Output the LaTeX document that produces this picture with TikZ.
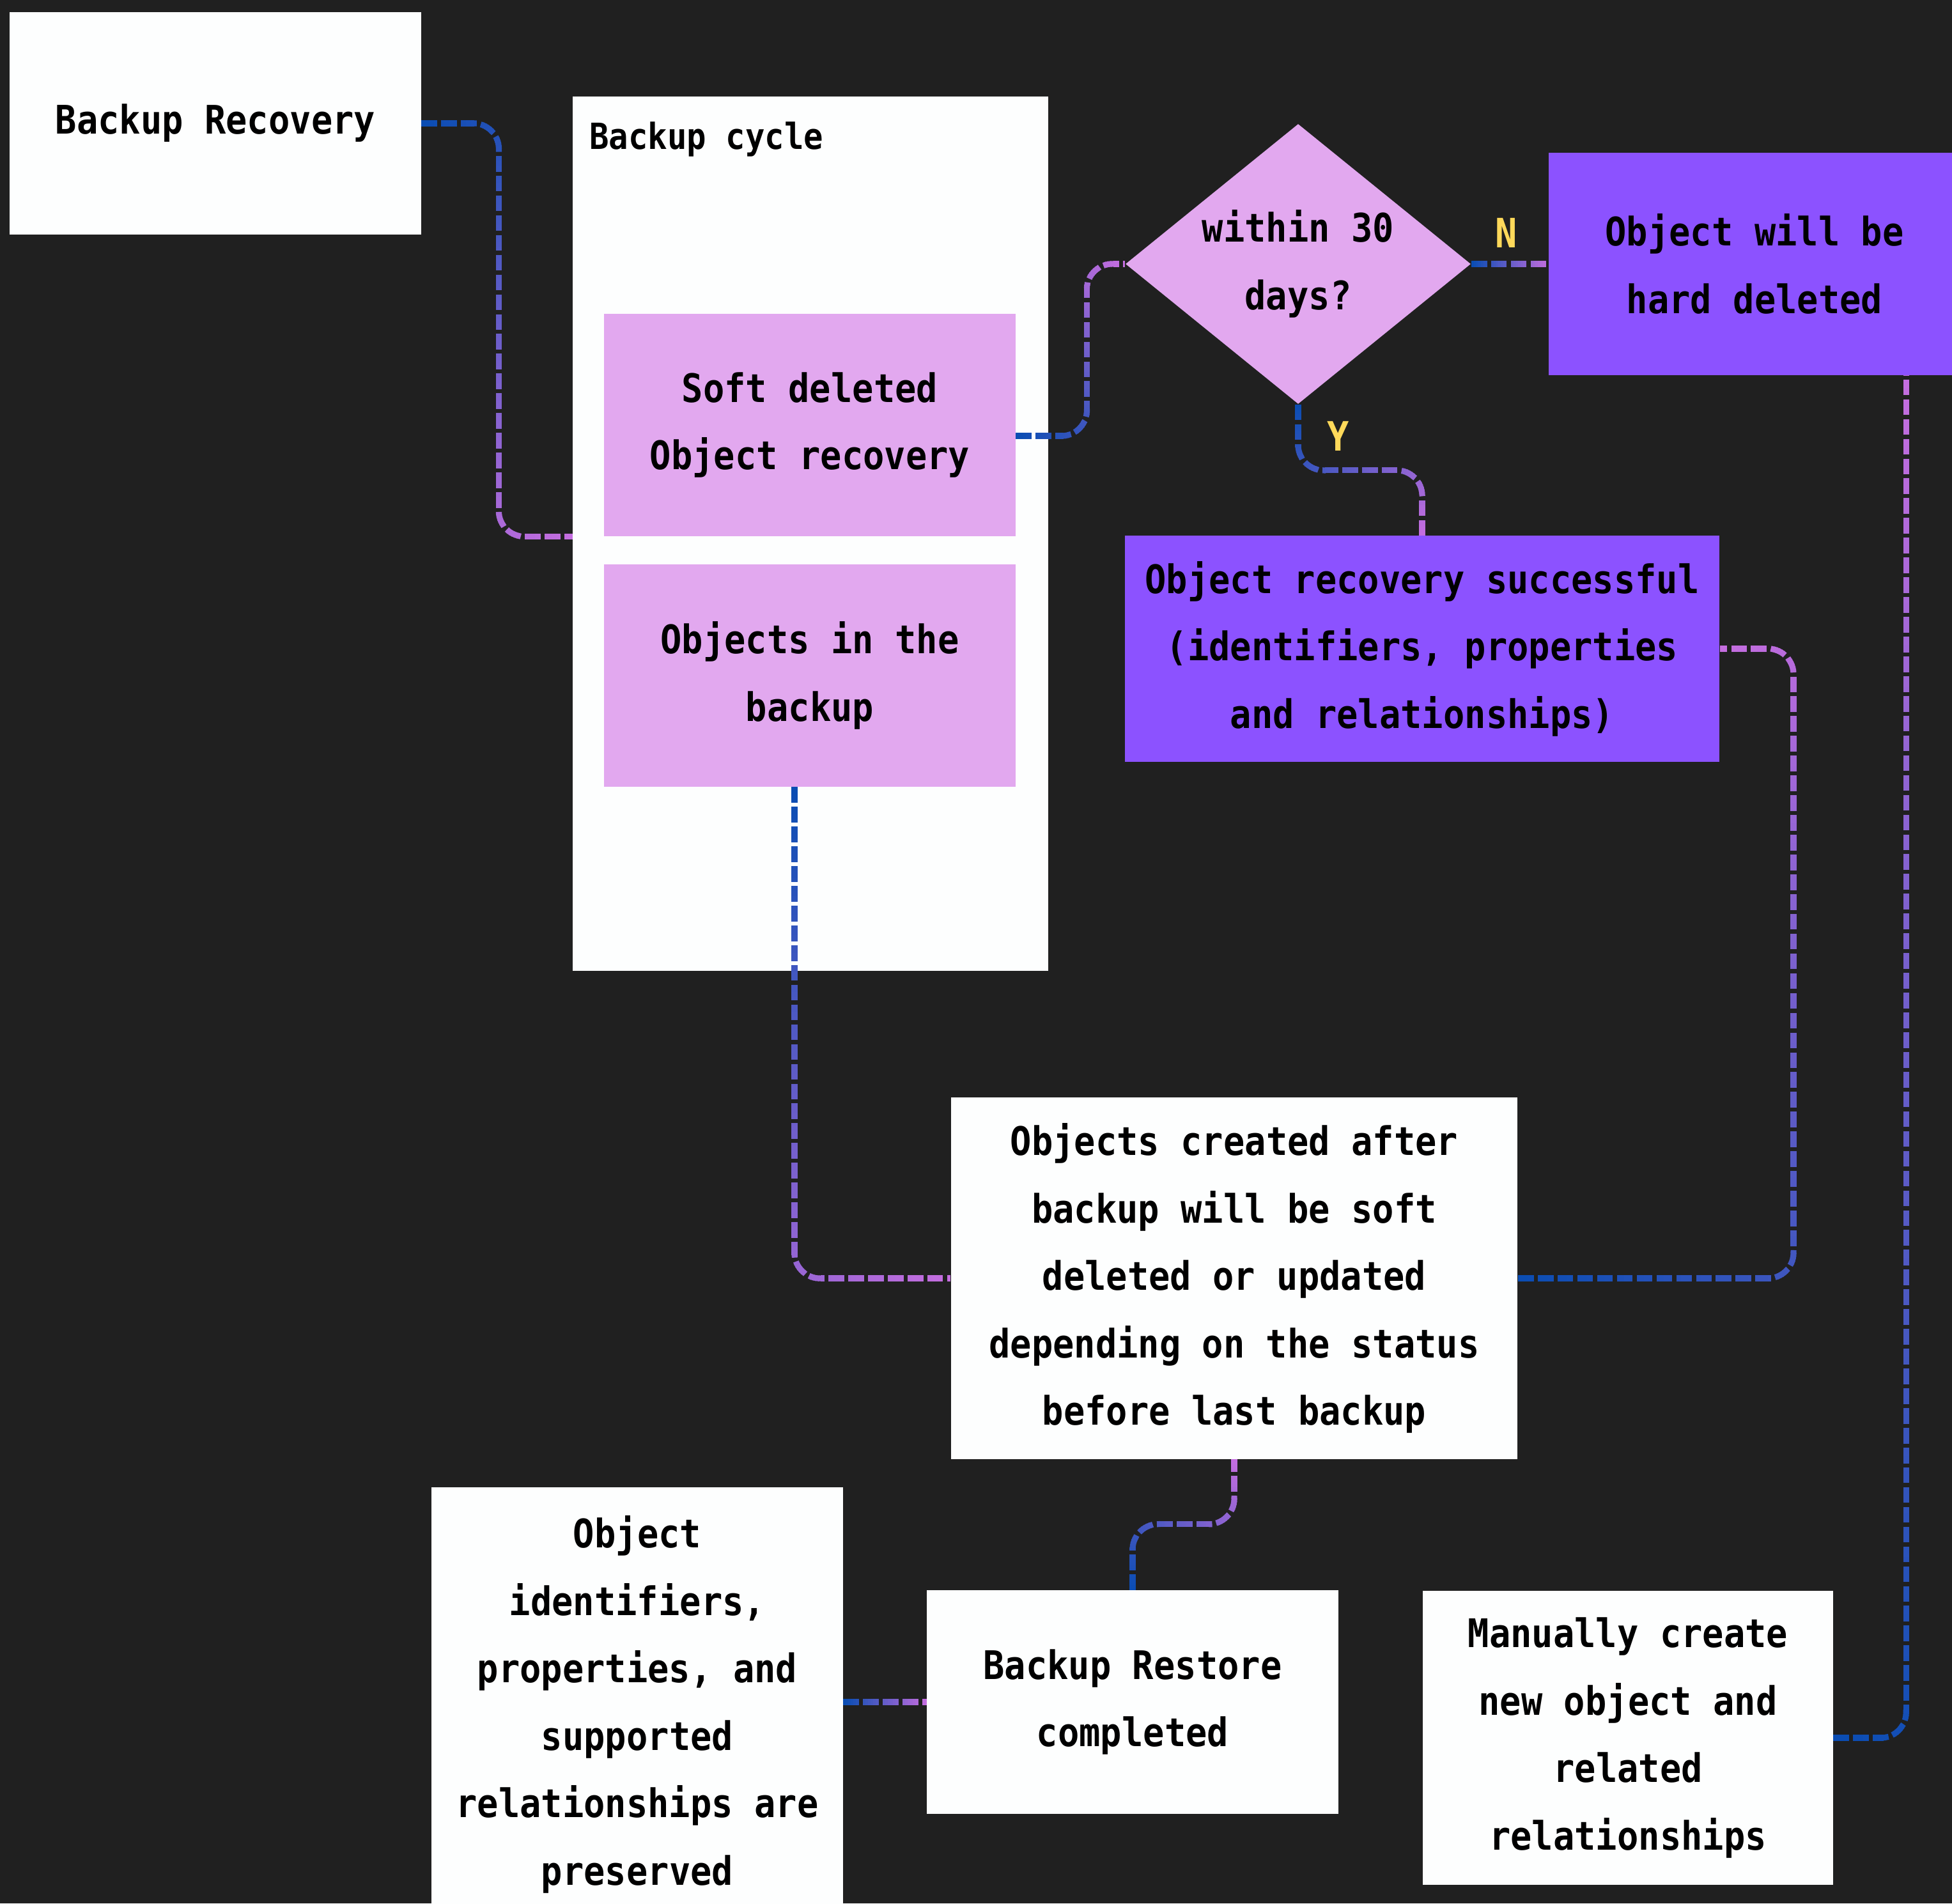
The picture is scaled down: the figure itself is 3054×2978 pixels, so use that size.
\documentclass[tikz,border=0pt]{standalone}
\usepackage{fontspec}
\setmonofont[FakeStretch=0.9]{DejaVu Sans Mono}
\usetikzlibrary{shapes.geometric,decorations.markings,calc}

\definecolor{bgdark}{HTML}{202020}
\definecolor{paper}{HTML}{FDFEFE}
\definecolor{lilac}{HTML}{E2A8EF}
\definecolor{boxviolet}{HTML}{8C52FF}
\definecolor{tagyellow}{HTML}{FFD95A}
\definecolor{linkblue}{HTML}{0B4DB3}
\definecolor{linkpink}{HTML}{C76EE0}

% one short piece of a dashed connector, coloured by how far along the path it is
\newcommand\linkdash{%
  \pgfmathsetmacro\linkat{\pgfkeysvalueof{/pgf/decoration/mark info/distance from start}}%
  \pgfmathtruncatemacro\linkon{mod(round(\linkat/1.1),8)<6}%
  \ifnum\linkon=1
    \pgfmathtruncatemacro\linkmix{(\linkat/\pgfdecoratedpathlength)*100}%
    \pgfmathsetmacro\linkrest{min(1.5,\pgfdecoratedpathlength-\linkat)}%
    \draw[line width=2.6pt, color=linkpink!\linkmix!linkblue] (0pt,0pt) -- (\linkrest pt,0pt);
  \fi}

\begin{document}
\begin{tikzpicture}[
  x=0.01cm, y=-0.01cm,
  box/.style={rectangle, fill=paper, minimum width=6.43cm, minimum height=3.47cm, inner sep=0pt, align=center, font=\ttfamily\bfseries\fontsize{17.5}{30}\selectfont},
  pinkbox/.style={box, fill=lilac},
  purplebox/.style={box, fill=boxviolet},
  decision/.style={diamond, fill=lilac, shape aspect=1.233, minimum width=5.4cm, minimum height=4.38cm, inner sep=0pt, align=center, font=\ttfamily\bfseries\fontsize{17.5}{30}\selectfont},
  tag/.style={text=tagyellow, font=\ttfamily\bfseries\fontsize{18}{20}\selectfont},
  link/.style={rounded corners=0.4cm, decorate, decoration={markings, mark=between positions 0 and 1 step 1.1pt with {\linkdash}}}
]
  \useasboundingbox (0,0) rectangle (3054,2978);
  \fill[bgdark] (0,0) rectangle (3054,2978);

  \node[box] (recovery) at (337,193) {Backup Recovery};
  \node[box, minimum width=7.44cm, minimum height=13.67cm] (cycle) at (1268,835) {};
  \node[anchor=west, font=\ttfamily\bfseries\fontsize{16}{20}\selectfont] (cyclelbl) at (910,218) {Backup cycle};
  \node[pinkbox] (soft) at (1267,665) {Soft deleted\\Object recovery};
  \node[pinkbox] (inbackup) at (1267,1057) {Objects in the\\backup};
  \node[decision] (within) at (2031,413) {within 30\\days?};
  \node[purplebox] (hard) at (2745,413) {Object will be\\hard deleted};
  \node[purplebox, minimum width=9.29cm, minimum height=3.53cm] (success) at (2225,1015) {Object recovery successful\\(identifiers, properties\\and relationships)};
  \node[box, minimum width=8.86cm, minimum height=5.65cm] (created) at (1931,2000) {Objects created after\\backup will be soft\\deleted or updated\\depending on the status\\before last backup};
  \node[box, minimum height=6.8cm] (preserved) at (997,2667) {Object\\identifiers,\\properties, and\\supported\\relationships are\\preserved};
  \node[box, minimum height=3.49cm] (restore) at (1772,2663) {Backup Restore\\completed};
  \node[box, minimum width=6.41cm, minimum height=4.6cm] (manual) at (2547,2719) {Manually create\\new object and\\related\\relationships};
  \node[tag] (nolbl) at (2357,364) {N};
  \node[tag] (yeslbl) at (2094,682) {Y};

  \draw[link] (recovery.east) -- ++(121,0) |- (cycle.west |- soft.south);
  \draw[link] ([yshift=-0.17cm]soft.east) -- ++(111,0) |- (within.west);
  \draw[link] (within.east) -- (hard.west);
  \draw[link] (within.south) -- ++(0,103) -| (success.north);
  \draw[link] (created.east) -- ++(431,0) |- (success.east);
  \draw[link] ([xshift=-0.24cm]inbackup.south) |- (created.west);
  \draw[link] (restore.north) -- ++(0,-103) -| (created.south);
  \draw[link] (preserved.east |- restore.west) -- (restore.west);
  \draw[link] (manual.east) -| ([xshift=2.37cm]hard.south);
\end{tikzpicture}
\end{document}
